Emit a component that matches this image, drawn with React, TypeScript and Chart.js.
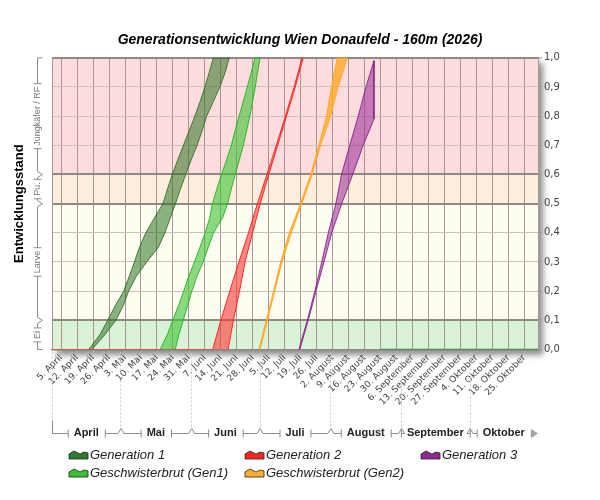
import { useEffect, useRef } from "react";
import { Chart, registerables } from "chart.js";

Chart.register(...registerables);

const FONT = "'Liberation Sans', Arial, sans-serif";
Chart.defaults.font.family = FONT;

const chartTitle = "Generationsentwicklung Wien Donaufeld - 160m (2026)";
const yTitle = "Entwicklungsstand";

// x values are days counted from 1 April
const lastDay = 213;
const weekDays = [4, 11, 18, 25, 32, 39, 46, 53, 60, 67, 74, 81, 88, 95, 102, 109, 116, 123, 130, 137, 144, 151, 158, 165, 172, 179, 186, 193, 200, 207];
const weekLabels = [
  "5. April", "12. April", "19. April", "26. April",
  "3. Mai", "10. Mai", "17. Mai", "24. Mai", "31. Mai",
  "7. Juni", "14. Juni", "21. Juni", "28. Juni",
  "5. Juli", "12. Juli", "19. Juli", "26. Juli",
  "2. August", "9. August", "16. August", "23. August", "30. August",
  "6. September", "13. September", "20. September", "27. September",
  "4. Oktober", "11. Oktober", "18. Oktober", "25. Oktober",
];
const monthStarts = [0, 30, 61, 91, 122, 153, 183];
const monthNames = ["April", "Mai", "Juni", "Juli", "August", "September", "Oktober"];

const stageBounds = [0, 0.1, 0.5, 0.6, 1];
const stageNames = ["Ei", "Larve", "Pu.", "Jungkäfer / RF"];
const stageColors = ["#daf2d8", "#fdfdf1", "#fdeedd", "#fcdcdc"];

// development levels at which the band edges were read
const levels = [0, 0.1, 0.2, 0.3, 0.4, 0.5, 0.6, 0.7, 0.8, 0.9, 1];
const levelsFine = [0, 0.05, 0.1, 0.15, 0.2, 0.25, 0.3, 0.35, 0.4, 0.45, 0.5, 0.55, 0.6, 0.65, 0.7, 0.75, 0.8, 0.85, 0.9, 0.95, 1];
const gen3EarlyLevels = [0, 0.1, 0.2, 0.3, 0.4, 0.5, 0.6, 0.7, 0.8, 0.9, 0.99];
const gen3LateLevels = [0, 0.1, 0.2, 0.3, 0.4, 0.5, 0.6, 0.7, 0.79];

// day reached at each level: early edge / late edge of every band
const gen1Early = [16.1, 20.9, 24.4, 27.7, 31.4, 33.8, 36.1, 38.3, 41.1, 44.8, 48.6, 50.6, 52.7, 55.1, 57.6, 60.1, 62.6, 64.9, 67.0, 68.9, 70.7];
const gen1Late = [17.5, 23.1, 28.0, 31.2, 33.6, 36.9, 41.5, 46.6, 49.5, 51.8, 54.1, 56.3, 58.6, 61.0, 63.6, 65.8, 67.8, 70.7, 73.6, 75.9, 77.7];
const gen1bEarly = [47.4, 50.5, 52.9, 55.4, 57.7, 59.9, 62.4, 64.8, 67.1, 69.1, 70.3, 72.2, 74.3, 76.5, 78.6, 80.2, 82.0, 83.8, 85.6, 87.3, 89.0];
const gen1bLate = [54.0, 55.6, 57.5, 59.4, 61.3, 63.5, 66.2, 68.5, 70.8, 74.7, 77.0, 78.6, 80.3, 82.1, 83.9, 85.3, 86.7, 87.9, 89.1, 90.1, 91.2];
const gen2Early = [70.4, 74.0, 77.9, 81.9, 86.1, 90.0, 94.2, 98.3, 102.3, 106.1, 109.6];
const gen2Late = [77.2, 79.5, 82.2, 84.6, 87.9, 91.3, 95.0, 98.9, 102.8, 106.6, 110.1];
const gen2Lead = 0;
const gen2bEarly = [90.7, 93.9, 97.1, 100.2, 104.0, 108.9, 113.4, 117.0, 120.3, 122.5, 125.0];
const gen2bLate = [91.2, 94.4, 97.6, 100.8, 104.9, 109.5, 114.0, 117.7, 122.1, 125.4, 129.4];
const gen3Early = [108.2, 111.9, 115.2, 118.2, 121.1, 124.4, 126.9, 130.5, 134.2, 137.6, 141.1];
const gen3Late = [108.6, 112.3, 115.7, 119.2, 122.6, 127.0, 131.8, 136.4, 141.1];
const tailDays = [143.7, 213];

const keyColors = ["#2e7a2e", "#35c235", "#ff2424", "#ffb02a", "#8e2a8e"];
const legendX = [69, 245, 421];
const legendY = [455, 473];

type Pt = { x: number; y: number };

function band(earlyDays: number[], earlyLv: number[], lateDays: number[], lateLv: number[]): Pt[] {
  const pts = earlyDays.map((d, i) => ({ x: d, y: earlyLv[i] }));
  for (let i = lateDays.length - 1; i >= 0; i--) pts.push({ x: lateDays[i], y: lateLv[i] });
  return pts;
}

type Seg = { a: number; b: number; half: number };

// bracket drawn along local u axis at v = 0, the plot lies towards -v
function drawBracket(ctx: CanvasRenderingContext2D, segs: Seg[], startCorner: number, endCorner: number, endGap: number) {
  ctx.beginPath();
  segs.forEach((s, i) => {
    const m = (s.a + s.b) / 2;
    const first = i === 0;
    const last = i === segs.length - 1;
    const u1 = last ? s.b - endGap : s.b - 3;
    if (first) {
      ctx.moveTo(s.a, -startCorner);
      ctx.lineTo(s.a, 0);
    } else ctx.moveTo(s.a + 3, 0);
    ctx.lineTo(m - s.half, 0);
    ctx.moveTo(m - s.half, -4);
    ctx.lineTo(m - s.half, 4);
    ctx.moveTo(m + s.half, -4);
    ctx.lineTo(m + s.half, 4);
    ctx.moveTo(m + s.half, 0);
    ctx.lineTo(u1, 0);
    if (last && endCorner) ctx.lineTo(u1, -endCorner);
    if (!last) {
      ctx.lineTo(s.b, -5);
      ctx.lineTo(s.b + 3, 0);
    }
  });
  ctx.stroke();
}

const backgroundPlugin = {
  id: "stageBackground",
  beforeDraw(chart: Chart) {
    const { ctx, chartArea: a } = chart;
    const y = chart.scales.y;
    ctx.save();
    ctx.fillStyle = "#fff";
    ctx.fillRect(0, 0, chart.width, chart.height);
    ctx.shadowColor = "rgba(0,0,0,0.45)";
    ctx.shadowBlur = 6;
    ctx.shadowOffsetX = 5;
    ctx.shadowOffsetY = 5;
    ctx.fillRect(a.left, a.top, a.width, a.height);
    ctx.restore();
    for (let i = 0; i < stageColors.length; i++) {
      const top = y.getPixelForValue(stageBounds[i + 1]);
      const bot = y.getPixelForValue(stageBounds[i]);
      ctx.fillStyle = stageColors[i];
      ctx.fillRect(a.left, top, a.width, bot - top);
    }
  },
};

const decorPlugin = {
  id: "decor",
  afterDraw(chart: Chart) {
    const { ctx, chartArea: area } = chart;
    const x = chart.scales.x;
    const y = chart.scales.y;
    const lineY = 433;
    ctx.save();

    // month dividers
    ctx.strokeStyle = "#cacaca";
    ctx.lineWidth = 1;
    ctx.setLineDash([2, 2]);
    ctx.beginPath();
    monthStarts.forEach((d) => {
      const px = Math.round(x.getPixelForValue(d)) + 0.5;
      ctx.moveTo(px, area.bottom + 3);
      ctx.lineTo(px, d === 0 ? lineY - 13 : lineY - 5);
    });
    ctx.stroke();
    ctx.setLineDash([]);

    // month brackets
    ctx.strokeStyle = "#8c8c8c";
    ctx.font = `bold 11px ${FONT}`;
    const mSegs = monthStarts.map((d, i) => ({
      a: x.getPixelForValue(d),
      b: x.getPixelForValue(monthStarts[i + 1] ?? lastDay),
      half: ctx.measureText(monthNames[i]).width / 2 + 6,
    }));
    ctx.save();
    ctx.translate(0.5, lineY + 0.5);
    drawBracket(ctx, mSegs, 13, 0, 7);
    ctx.restore();
    const endX = mSegs[mSegs.length - 1].b;
    ctx.fillStyle = "#a5a5a5";
    ctx.beginPath();
    ctx.moveTo(endX - 6, lineY - 3.5);
    ctx.lineTo(endX, lineY + 0.5);
    ctx.lineTo(endX - 6, lineY + 4.5);
    ctx.closePath();
    ctx.fill();

    // stage brackets on the left
    const sx = 37.5;
    ctx.font = `9px ${FONT}`;
    const sSegs = stageNames
      .map((name, i) => ({
        a: y.getPixelForValue(stageBounds[i + 1]),
        b: y.getPixelForValue(stageBounds[i]),
        half: ctx.measureText(name).width / 2 + 3,
        name,
      }))
      .reverse();
    ctx.save();
    ctx.translate(sx, 0);
    ctx.rotate(Math.PI / 2);
    drawBracket(ctx, sSegs, 5, 5, 0);
    ctx.restore();
    ctx.fillStyle = "#777";
    ctx.textAlign = "center";
    ctx.textBaseline = "middle";
    sSegs.forEach((s) => {
      ctx.save();
      ctx.translate(sx, (s.a + s.b) / 2);
      ctx.rotate(-Math.PI / 2);
      ctx.fillText(s.name, 0, 0.5);
      ctx.restore();
    });

    // legend, filled column by column
    ctx.font = `italic 13px ${FONT}`;
    ctx.textAlign = "left";
    ctx.textBaseline = "middle";
    chart.data.datasets.forEach((ds, i) => {
      if (!ds.label) return;
      const lx = legendX[Math.floor(i / 2)];
      const ly = legendY[i % 2];
      ctx.beginPath();
      ctx.moveTo(lx, ly + 4);
      ctx.lineTo(lx, ly - 1);
      ctx.lineTo(lx + 5, ly - 4);
      ctx.lineTo(lx + 11, ly - 1);
      ctx.lineTo(lx + 15, ly - 3);
      ctx.lineTo(lx + 19, ly - 2);
      ctx.lineTo(lx + 19, ly + 4);
      ctx.closePath();
      ctx.fillStyle = keyColors[i];
      ctx.fill();
      ctx.strokeStyle = "#222";
      ctx.lineWidth = 0.8;
      ctx.stroke();
      ctx.fillStyle = "#222";
      ctx.fillText(ds.label, lx + 21, ly);
    });
    ctx.restore();
  },
};

const isStageLine = (v: number) => stageBounds.some((b) => b > 0 && Math.abs(b - v) < 1e-6);

export default function App() {
  const ref = useRef<HTMLCanvasElement | null>(null);

  useEffect(() => {
    if (!ref.current) return;
    const common = { pointRadius: 0, borderWidth: 1, fill: "shape" as const, tension: 0 };
    const chart = new Chart(ref.current, {
      type: "line",
      data: {
        datasets: [
          { ...common, label: "Generation 1", data: band(gen1Early, levelsFine, gen1Late, levelsFine), backgroundColor: "rgba(45,115,35,0.55)", borderColor: "rgba(40,100,30,0.8)" },
          { ...common, label: "Geschwisterbrut (Gen1)", data: band(gen1bEarly, levelsFine, gen1bLate, levelsFine), backgroundColor: "rgba(60,195,50,0.6)", borderColor: "rgba(40,175,35,0.9)" },
          { ...common, label: "Generation 2", data: [{ x: gen2Lead, y: 0 }, ...band(gen2Early, levels, gen2Late, levels)], backgroundColor: "rgba(255,55,55,0.6)", borderColor: "#ff2a2a" },
          { ...common, label: "Geschwisterbrut (Gen2)", data: band(gen2bEarly, levels, gen2bLate, levels), backgroundColor: "rgba(255,170,40,0.8)", borderColor: "#ffa826" },
          { ...common, label: "Generation 3", data: band(gen3Early, gen3EarlyLevels, gen3Late, gen3LateLevels), backgroundColor: "rgba(150,40,150,0.55)", borderColor: "rgba(135,35,135,0.9)" },
          { ...common, label: "", data: tailDays.map((d) => ({ x: d, y: 0 })), borderColor: "#2e8b2e", borderWidth: 1.5, fill: false },
        ],
      },
      options: {
        animation: false,
        responsive: false,
        events: [],
        layout: { padding: { top: 0, left: 0, right: 0, bottom: 55.5 } },
        plugins: {
          legend: { display: false },
          tooltip: { enabled: false },
          title: {
            display: true,
            text: chartTitle,
            color: "#000",
            font: { size: 14, weight: "bold", style: "italic" },
            padding: { top: 32, bottom: 9 },
          },
        },
        scales: {
          x: {
            type: "linear",
            position: "bottom",
            min: 0,
            max: lastDay,
            afterBuildTicks: (s) => {
              s.ticks = weekDays.map((v) => ({ value: v }));
            },
            afterFit: (s) => {
              s.height = 70;
            },
            ticks: {
              autoSkip: false,
              minRotation: 45,
              maxRotation: 45,
              padding: 0,
              color: "#444",
              font: { family: "'DejaVu Sans'", size: 9 },
              callback: (_v, i) => weekLabels[i],
            },
            grid: { color: "#a69890", lineWidth: 1, tickLength: 3, tickColor: "#bbb" },
            border: { display: true, color: "#8f8883", width: 1.5 },
          },
          xMonth: {
            type: "linear",
            position: "bottom",
            weight: 1,
            min: 0,
            max: lastDay,
            afterBuildTicks: (s) => {
              s.ticks = monthStarts.map((m, i) => ({ value: (m + (monthStarts[i + 1] ?? lastDay)) / 2 }));
            },
            afterFit: (s) => {
              s.height = 25;
            },
            ticks: {
              autoSkip: false,
              minRotation: 0,
              maxRotation: 0,
              padding: 7,
              color: "#222",
              font: { size: 11, weight: "bold" },
              callback: (_v, i) => monthNames[i],
            },
            grid: { display: false, drawTicks: false },
            border: { display: false },
          },
          y: {
            type: "linear",
            position: "right",
            min: 0,
            max: 1,
            afterFit: (s) => {
              s.width = 62;
            },
            ticks: {
              stepSize: 0.1,
              padding: 2,
              color: "#444",
              font: { family: "'DejaVu Sans'", size: 10 },
              callback: (v) => (Math.round(Number(v) * 10) / 10).toFixed(1).replace(".", ","),
            },
            grid: {
              color: (c) => (isStageLine(c.tick?.value ?? 0) ? "#8f8883" : "#cdbfb9"),
              lineWidth: (c) => (isStageLine(c.tick?.value ?? 0) ? 2 : 1),
              tickLength: 4,
              tickColor: "#999",
              tickWidth: 1,
            },
            border: { display: true, color: "#a69890" },
          },
          yStage: {
            type: "linear",
            position: "left",
            min: 0,
            max: 1,
            afterFit: (s) => {
              s.width = 52;
            },
            ticks: { display: false },
            grid: { display: false, drawTicks: false },
            border: { display: true, color: "#a69890" },
            title: {
              display: true,
              text: yTitle,
              color: "#000",
              font: { size: 13, weight: "bold" },
              padding: { top: 12, bottom: 0 },
            },
          },
        },
      },
      plugins: [backgroundPlugin, decorPlugin],
    });
    return () => chart.destroy();
  }, []);

  return (
    <div style={{ position: "absolute", left: 0, top: 0, width: 600, height: 500, background: "#fff" }}>
      <canvas ref={ref} width={600} height={500} />
    </div>
  );
}
